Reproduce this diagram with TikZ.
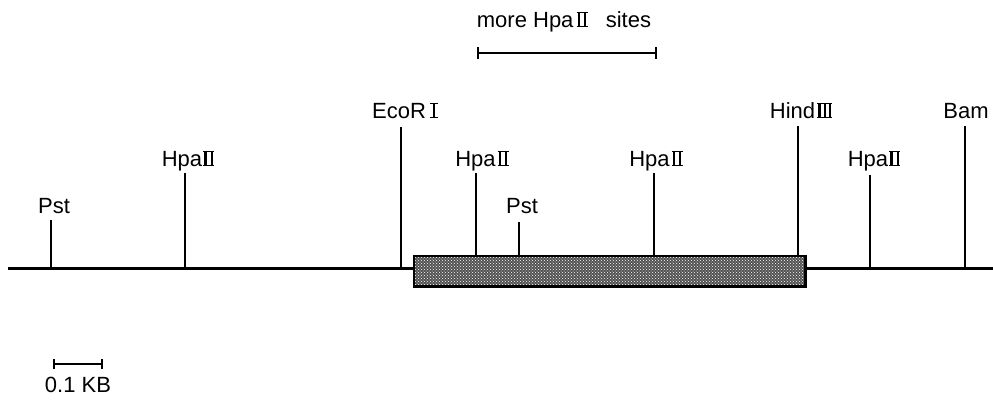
\documentclass[tikz,border=0pt]{standalone}
\usepackage{fontspec}
\setmainfont{Liberation Sans}
\usetikzlibrary{patterns}
% roman numerals with joined top and bottom bars
\newcommand{\rstroke}{\vrule width 2.2pt height 12.2pt}
\newcommand{\RI}{\hbox{\vbox{\hrule height 1.5pt width 8pt\hbox to 8pt{\hfil\rstroke\hfil}\hrule height 1.5pt}}}
\newcommand{\RII}{\hbox{\vbox{\hrule height 1.5pt width 11pt\hbox to 11pt{\hskip1.2pt\rstroke\hfil\rstroke\hskip1.2pt}\hrule height 1.5pt}}}
\newcommand{\RIII}{\hbox{\vbox{\hrule height 1.5pt width 15pt\hbox to 15pt{\hskip1.2pt\rstroke\hfil\rstroke\hfil\rstroke\hskip1.2pt}\hrule height 1.5pt}}}
\begin{document}
\begin{tikzpicture}[x=1pt,y=-1pt,
  site/.style={line width=2.4pt},
  lab/.style={font=\fontsize{22}{25}\selectfont, inner sep=0pt, anchor=base},
  dna/.style={line width=3pt}]
\useasboundingbox (0,0) rectangle (993,400);
% main line
\coordinate (L) at (8,268);
\coordinate (R) at (993,268);
\draw[dna] (L) -- (R);
% insert box
\node[fill=black!68, minimum width=391pt, minimum height=30pt, inner sep=0pt, anchor=north west] (box) at (414,256) {};
\fill[pattern=crosshatch dots, pattern color=white] (box.north west) rectangle (box.south east);
\draw[line width=2.8pt] (box.north west) rectangle (box.south east);
% sites
\coordinate (p1t) at (51,220); \coordinate (p1b) at (51,268);
\draw[site] (p1b) -- (p1t);
\node[lab] (p1) at (54,213) {Pst};
\coordinate (h1t) at (185,173); \coordinate (h1b) at (185,268);
\draw[site] (h1b) -- (h1t);
\node[lab] (h1) at (188,166) {Hpa\kern1pt\RII};
\coordinate (e1t) at (401,127); \coordinate (e1b) at (401,268);
\draw[site] (e1b) -- (e1t);
\node[lab] (e1) at (405,118) {EcoR\kern4pt\RI};
\coordinate (h2t) at (476,173); \coordinate (h2b) at (476,256);
\draw[site] (h2b) -- (h2t);
\node[lab] (h2) at (482,166) {Hpa\kern2pt\RII};
\coordinate (p2t) at (519,222); \coordinate (p2b) at (519,256);
\draw[site] (p2b) -- (p2t);
\node[lab] (p2) at (522,213) {Pst};
\coordinate (h3t) at (654,173); \coordinate (h3b) at (654,256);
\draw[site] (h3b) -- (h3t);
\node[lab] (h3) at (656,166) {Hpa\kern2pt\RII};
\coordinate (d1t) at (798,126); \coordinate (d1b) at (798,256);
\draw[site] (d1b) -- (d1t);
\node[lab] (d1) at (801,118) {Hind\kern2pt\RIII};
\coordinate (h4t) at (870,175); \coordinate (h4b) at (870,268);
\draw[site] (h4b) -- (h4t);
\node[lab] (h4) at (874,166) {Hpa\kern1pt\RII};
\coordinate (b1t) at (965,126); \coordinate (b1b) at (965,268);
\draw[site] (b1b) -- (b1t);
\node[lab] (b1) at (966,118) {Bam};
% more HpaII sites bar
\coordinate (mL) at (478,53); \coordinate (mR) at (656,53);
\draw[line width=2.4pt] (mL) -- (mR);
\draw[line width=1.8pt] ([yshift=-6pt]mL) -- ([yshift=6pt]mL);
\draw[line width=1.8pt] ([yshift=-6pt]mR) -- ([yshift=6pt]mR);
\node[lab] (more) at (564,27) {more Hpa\kern3pt\RII\ \ \ sites};
% scale bar
\coordinate (sL) at (54,364); \coordinate (sR) at (102,364);
\draw[line width=2.4pt] (sL) -- (sR);
\draw[line width=1.8pt] ([yshift=-5pt]sL) -- ([yshift=5pt]sL);
\draw[line width=1.8pt] ([yshift=-5pt]sR) -- ([yshift=5pt]sR);
\node[lab] (kb) at (78,392) {0.1 KB};
\end{tikzpicture}
\end{document}
